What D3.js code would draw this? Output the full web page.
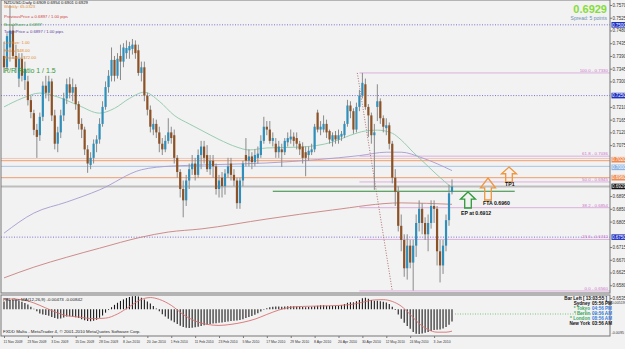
<!DOCTYPE html>
<html><head><meta charset="utf-8">
<script src="https://cdn.jsdelivr.net/npm/d3@7/dist/d3.min.js"></script>
<style>body{margin:0;background:#f2f2f2;}svg{display:block;font-family:Arial,"Liberation Sans",sans-serif;}</style>
</head><body><svg id="c" width="625" height="349"></svg>
<script>
// ---------------- DATA ----------------
const opens=[.7390,.7350,.7420,.7480,.7390,.7310,.7380,.7305,.7300,.7234,.7188,.7129,.7110,.7175,.7285,.7260,.7300,.7180,.7080,.7120,.7180,.7240,.7290,.7260,.7280,.7220,.7150,.7130,.7060,.7005,.7030,.7080,.7095,.7150,.7210,.7280,.7320,.7376,.7320,.7390,.7370,.7400,.7410,.7415,.7430,.7410,.7330,.7350,.7250,.7200,.7130,.7150,.7120,.7080,.7060,.7090,.7120,.7110,.7030,.6980,.6920,.6880,.6950,.6990,.7010,.6970,.7040,.7070,.7040,.6990,.7020,.7000,.6920,.6960,.6930,.6975,.7010,.6970,.6950,.6870,.6950,.7040,.7020,.7035,.7015,.7030,.7040,.7090,.7140,.7130,.7090,.7080,.7050,.7060,.7050,.7085,.7095,.7105,.7100,.7080,.7070,.7050,.7040,.7050,.7060,.7190,.7130,.7130,.7150,.7125,.7090,.7110,.7095,.7105,.7110,.7150,.7215,.7195,.7130,.7210,.7250,.7290,.7210,.7180,.7110,.7210,.7230,.7170,.7135,.7145,.7080,.6960,.6910,.6790,.6740,.6640,.6720,.6660,.6720,.6800,.6850,.6800,.6760,.6800,.6860,.6850,.6700,.6650,.6720,.6810,.6909];
const highs=[.7440,.7470,.7570,.7500,.7430,.7400,.7400,.7370,.7320,.7250,.7200,.7150,.7190,.7300,.7320,.7320,.7310,.7200,.7140,.7200,.7260,.7310,.7315,.7310,.7290,.7230,.7170,.7140,.7075,.7050,.7095,.7110,.7170,.7230,.7300,.7340,.7420,.7390,.7400,.7430,.7435,.7445,.7440,.7450,.7445,.7430,.7370,.7370,.7260,.7215,.7170,.7165,.7140,.7100,.7110,.7170,.7140,.7130,.7040,.6990,.6950,.6970,.7010,.7040,.7030,.7060,.7090,.7090,.7075,.7040,.7040,.7010,.6970,.6980,.6990,.7030,.7030,.6990,.6960,.6960,.7020,.7100,.7060,.7050,.7060,.7070,.7110,.7175,.7160,.7160,.7120,.7100,.7090,.7080,.7100,.7120,.7130,.7120,.7120,.7090,.7085,.7070,.7070,.7080,.7150,.7200,.7160,.7180,.7165,.7130,.7120,.7125,.7130,.7125,.7160,.7235,.7230,.7205,.7225,.7270,.7330,.7310,.7220,.7190,.7150,.7290,.7240,.7180,.7170,.7155,.7090,.6990,.6930,.6830,.6760,.6760,.6740,.6740,.6830,.6880,.6870,.6820,.6830,.6880,.6880,.6860,.6740,.6740,.6830,.6935,.6954];
const lows=[.7330,.7340,.7370,.7380,.7330,.7280,.7300,.7270,.7215,.7170,.7110,.7030,.7090,.7160,.7240,.7230,.7160,.7060,.7050,.7100,.7160,.7220,.7240,.7230,.7200,.7130,.7100,.7040,.6977,.6990,.7010,.7050,.7080,.7140,.7200,.7260,.7300,.7300,.7310,.7305,.7350,.7380,.7380,.7395,.7380,.7320,.7300,.7230,.7180,.7120,.7110,.7100,.7050,.7040,.7050,.7080,.7080,.7010,.6960,.6890,.6820,.6860,.6920,.6970,.6950,.6960,.6990,.7010,.6980,.6970,.6960,.6900,.6890,.6890,.6900,.6960,.6950,.6930,.6850,.6850,.6930,.7000,.7000,.6990,.7000,.7010,.7030,.7080,.7110,.7080,.7070,.7030,.7030,.6998,.7040,.7070,.7080,.7070,.7060,.7040,.7010,.6965,.7020,.7040,.7050,.7120,.7110,.7120,.7100,.7080,.7070,.7080,.7080,.7090,.7100,.7140,.7170,.7115,.7120,.7195,.7240,.7200,.7104,.7080,.6917,.7160,.7150,.7120,.7110,.7060,.6940,.6860,.6770,.6700,.6610,.6600,.6640,.6561,.6680,.6770,.6760,.6740,.6700,.6780,.6800,.6650,.6590,.6620,.6700,.6790,.6901];
const closes=[.7350,.7460,.7480,.7390,.7350,.7380,.7320,.7345,.7234,.7192,.7129,.7104,.7175,.7285,.7260,.7300,.7180,.7080,.7120,.7180,.7240,.7290,.7260,.7280,.7220,.7150,.7130,.7060,.7010,.7030,.7080,.7095,.7150,.7210,.7280,.7320,.7376,.7320,.7380,.7370,.7420,.7418,.7425,.7430,.7400,.7330,.7350,.7250,.7200,.7140,.7150,.7120,.7080,.7060,.7090,.7120,.7100,.7030,.6980,.6920,.6880,.6950,.6990,.7010,.6970,.7040,.7070,.7030,.6990,.7020,.7000,.6920,.6950,.6930,.6975,.7000,.6970,.6950,.6870,.6950,.7010,.7020,.7035,.7015,.7040,.7045,.7090,.7140,.7130,.7090,.7100,.7050,.7070,.7050,.7090,.7100,.7105,.7090,.7080,.7060,.7030,.7030,.7055,.7060,.7140,.7130,.7140,.7150,.7120,.7095,.7110,.7095,.7110,.7115,.7150,.7215,.7195,.7130,.7210,.7250,.7295,.7210,.7180,.7110,.7120,.7230,.7170,.7140,.7145,.7080,.6960,.6910,.6790,.6740,.6640,.6720,.6660,.6720,.6800,.6850,.6800,.6760,.6800,.6860,.6850,.6700,.6650,.6720,.6810,.6905,.6929];

const dateIdx=[0,8,16,24,32,40,48,56,64,72,80,88,96,104,112,120,128,136,144];
const dateLabels=["11 Nov 2009","23 Nov 2009","3 Dec 2009","15 Dec 2009","28 Dec 2009","8 Jan 2010","20 Jan 2010","1 Feb 2010","11 Feb 2010","23 Feb 2010","5 Mar 2010","17 Mar 2010","29 Mar 2010","8 Apr 2010","20 Apr 2010","30 Apr 2010","12 May 2010","24 May 2010","3 Jun 2010"];
const priceTicks=[0.7570,0.7525,0.7480,0.7435,0.7390,0.7345,0.7300,0.7255,0.7210,0.7165,0.7120,0.7075,0.7030,0.6985,0.6940,0.6895,0.6850,0.6805,0.6760,0.6715,0.6670,0.6625,0.6580,0.6535];

// moving averages (bar index, price)
const maGreenIdx=[0,6,12,18,25,32,37,42,47,52,57,62,66,72,78,82,88,99,110,116,121,125,130,133,137,141,145,150];
const maGreenVal=[.7210,.7240,.7259,.7245,.7215,.7188,.7205,.7240,.7262,.7230,.7180,.7150,.7128,.7095,.7068,.7058,.7065,.7068,.7086,.7110,.7125,.7128,.7117,.7093,.7050,.7010,.6970,.6924];
const maPurpleIdx=[0,10,21,32,46,56,70,88,105,119,128,133,140,150];
const maPurpleVal=[.6764,.6835,.6874,.6917,.6988,.7001,.7006,.7012,.7024,.7038,.7050,.7050,.7030,.6985];
const maRedIdx=[0,10,21,32,46,55,66,88,110,133,150];
const maRedVal=[.6606,.6644,.6679,.6711,.6750,.6768,.6779,.6814,.6846,.6871,.6866];

// horizontal levels
const dottedLevels=[0.7500,0.7250,0.6750];
const fullLevels=[0.7028,0.7020,0.7000,0.6960,0.6929];
const fullLevelColors=["#f2c4b4","#ee9e6e","#a9c6e6","#ee9e6e","#bdbdbd"];
const entryLevel=0.6912, entryFrom=90, entryTo=171;
const hlLevels=[0.7500,0.7250,0.7020,0.7000,0.6960,0.6929,0.6750];
const hlColors=["#2030c0","#2030c0","#ee8a50","#8fb4e4","#ee8a50","#111111","#2030c0"];
// fibonacci
const fibPct=["100.0","61.8","50.0","38.2","23.6","0.0"];
const fibVal=[0.7330,0.7036,0.6945,0.6854,0.6742,0.6560];
const fibStartIdx=119, fibHighIdx=118.3, fibLowIdx=130.0;

// oscillator
const osc=[.0030,.0033,.0036,.0037,.0036,.0033,.0029,.0024,.0018,.0010,.0002,-.0008,-.0016,-.0020,-.0022,-.0025,-.0030,-.0034,-.0036,-.0035,-.0032,-.0028,-.0027,-.0028,-.0031,-.0034,-.0038,-.0042,-.0045,-.0046,-.0044,-.0040,-.0033,-.0024,-.0013,-.0003,.0008,.0017,.0025,.0032,.0038,.0043,.0047,.0050,.0051,.0049,.0044,.0038,.0030,.0022,.0013,.0003,-.0008,-.0019,-.0028,-.0036,-.0043,-.0050,-.0057,-.0063,-.0068,-.0071,-.0072,-.0071,-.0069,-.0067,-.0064,-.0061,-.0059,-.0057,-.0055,-.0054,-.0052,-.0051,-.0049,-.0047,-.0045,-.0044,-.0043,-.0041,-.0038,-.0034,-.0030,-.0026,-.0021,-.0015,-.0009,-.0002,.0004,.0008,.0010,.0011,.0011,.0010,.0011,.0012,.0012,.0012,.0011,.0010,.0009,.0008,.0009,.0010,.0012,.0014,.0015,.0015,.0014,.0013,.0013,.0013,.0014,.0016,.0020,.0025,.0027,.0027,.0031,.0036,.0042,.0044,.0040,.0036,.0033,.0033,.0031,.0029,.0026,.0020,.0010,-.0003,-.0020,-.0036,-.0052,-.0064,-.0075,-.0087,-.0094,-.0095,-.0093,-.0090,-.0087,-.0083,-.0080,-.0079,-.0078,-.0074,-.0068,-.0059,-.0047];
const sigIdx=[0,4,8,12,16,20,25,30,34,38,42,46,49,52,56,60,64,68,72,76,80,84,88,92,96,100,108,116,120,124,127,130,133,136,139,142,145,148,150];
const sigVal=[.0040,.0039,.0032,.0015,-.0005,-.0022,-.0030,-.0036,-.0034,-.0018,.0010,.0038,.0045,.0038,.0015,-.0020,-.0045,-.0058,-.0062,-.0058,-.0050,-.0038,-.0020,-.0003,.0008,.0011,.0013,.0018,.0027,.0036,.0037,.0030,.0012,-.0020,-.0055,-.0078,-.0088,-.0088,-.0084];
const oscAxisLabels=["0.00519","-0.0095"];

// ---------------- LAYOUT ----------------
const PL=1,PR=610,MT=0,MB=293,IT=295,IB=336;
const svg=d3.select('#c');
svg.append('rect').attr('width',625).attr('height',349).attr('fill','#f2f2f2');
const x=d3.scaleLinear().domain([0,150]).range([4,452]);
const y=d3.scaleLinear().domain([0.6535,0.7570]).range([298,5]);
const yI=d3.scaleLinear().domain([-0.0095,0.0051]).range([334,296]);

const defs=svg.append('defs');
defs.append('clipPath').attr('id','cm').append('rect').attr('x',PL).attr('y',MT).attr('width',PR-PL).attr('height',MB-MT);
defs.append('clipPath').attr('id','ci').append('rect').attr('x',PL).attr('y',IT).attr('width',PR-PL).attr('height',IB-IT);
const gm=svg.append('g').attr('clip-path','url(#cm)');

dottedLevels.forEach(v=>gm.append('line').attr('x1',PL).attr('x2',PR).attr('y1',y(v)).attr('y2',y(v))
  .attr('stroke','#7a72d0').attr('stroke-width',1).attr('stroke-dasharray','1,1.6'));
fullLevels.forEach((v,i)=>gm.append('line').attr('x1',PL).attr('x2',PR).attr('y1',y(v)).attr('y2',y(v))
  .attr('stroke',fullLevelColors[i]).attr('stroke-width',i===4?2:1));
fibVal.forEach((v,i)=>{
  gm.append('line').attr('x1',x(fibStartIdx)).attr('x2',PR).attr('y1',y(v)).attr('y2',y(v)).attr('stroke','#dcb0dc').attr('stroke-width',1);
  gm.append('text').attr('x',PR-2).attr('y',y(v)-1).attr('text-anchor','end').attr('font-size',4.4).attr('fill','#cc77cc')
    .text(fibPct[i]+' - '+v.toFixed(4));
});
gm.append('line').attr('x1',x(fibHighIdx)).attr('y1',y(fibVal[0])).attr('x2',x(fibLowIdx)).attr('y2',y(fibVal[5]))
  .attr('stroke','#b07070').attr('stroke-dasharray','1,1.6');

const mkLine=(idx,val,col)=>gm.append('path').datum(idx.map((d,i)=>[d,val[i]]))
  .attr('d',d3.line().x(d=>x(d[0])).y(d=>y(d[1])).curve(d3.curveMonotoneX))
  .attr('fill','none').attr('stroke',col).attr('stroke-width',0.9);
mkLine(maRedIdx,maRedVal,'#c88080');
mkLine(maPurpleIdx,maPurpleVal,'#a89ad0');
mkLine(maGreenIdx,maGreenVal,'#8cc8a8');

gm.append('line').attr('x1',x(entryFrom)).attr('x2',x(entryTo)).attr('y1',y(entryLevel)).attr('y2',y(entryLevel))
  .attr('stroke','#2f8a3a').attr('stroke-width',1.2);

const idxs=d3.range(opens.length);
gm.selectAll('line.w').data(idxs).join('line').attr('class','w')
  .attr('x1',i=>x(i)).attr('x2',i=>x(i)).attr('y1',i=>y(highs[i])).attr('y2',i=>y(lows[i]))
  .attr('stroke','#8a8a8a').attr('stroke-width',1);
gm.selectAll('rect.b').data(idxs).join('rect').attr('class','b')
  .attr('x',i=>x(i)-1.1).attr('width',2.2)
  .attr('y',i=>y(Math.max(opens[i],closes[i])))
  .attr('height',i=>Math.max(1,Math.abs(y(opens[i])-y(closes[i]))))
  .attr('fill',i=>closes[i]>=opens[i]?'#2f8fba':'#8c5226');

function upArrow(cx,top,w,h,col){
  const hw=w/2, sw=w*0.22, hh=h*0.45;
  const p=[[cx,top],[cx+hw,top+hh],[cx+sw,top+hh],[cx+sw,top+h],[cx-sw,top+h],[cx-sw,top+hh],[cx-hw,top+hh]];
  svg.append('path').attr('d','M'+p.map(q=>q.join(',')).join('L')+'Z').attr('fill','none').attr('stroke',col).attr('stroke-width',1.3);
}
upArrow(468,192,15,16,'#2f9a3a');
upArrow(488,178,15,22,'#f0963c');
upArrow(509,167,15,15,'#f0963c');
svg.append('text').attr('x',461).attr('y',215).attr('font-size',5.2).attr('font-weight','bold').attr('fill','#111').text('EP at 0.6912');
svg.append('text').attr('x',483).attr('y',205).attr('font-size',5.2).attr('font-weight','bold').attr('fill','#111').text('FTA 0.6960');
svg.append('text').attr('x',505).attr('y',186).attr('font-size',5.2).attr('font-weight','bold').attr('fill','#111').text('TP1');

svg.append('rect').attr('x',PL).attr('y',MT).attr('width',PR-PL).attr('height',MB-MT).attr('fill','none').attr('stroke','#777');
svg.append('rect').attr('x',PL).attr('y',IT).attr('width',PR-PL).attr('height',IB-IT).attr('fill','none').attr('stroke','#777');

const visTicks=priceTicks.filter(t=>hlLevels.every(h=>Math.abs(y(h)-y(t))>5.5));
const ax=svg.append('g').attr('transform',`translate(${PR},0)`).call(d3.axisRight(y).tickValues(visTicks).tickFormat(d3.format('.4f')).tickSize(2).tickPadding(0.5));
ax.select('.domain').remove();
ax.selectAll('text').attr('font-size',4.5).attr('fill','#333');
ax.selectAll('line').attr('stroke','#777');
hlLevels.forEach((h,i)=>{
  const cy=y(h)+(h===0.7020?-1:h===0.7000?1:0);
  svg.append('rect').attr('x',PR+1.5).attr('y',cy-2.8).attr('width',13.5).attr('height',5.6).attr('fill',hlColors[i]);
  svg.append('text').attr('x',PR+2).attr('y',cy+1.7).attr('font-size',4.5).attr('fill','#fff').text(h.toFixed(4));
});

const dx=svg.append('g').attr('transform',`translate(0,${IB})`).call(d3.axisBottom(x).tickValues(dateIdx).tickFormat((d,i)=>dateLabels[i]).tickSize(2).tickPadding(2));
dx.select('.domain').remove();
dx.selectAll('text').attr('font-size',4.4).attr('fill','#333').attr('text-anchor','start').attr('dx',-1)
  .attr('textLength',function(){return this.textContent.length>10?19:17;}).attr('lengthAdjust','spacingAndGlyphs');
dx.selectAll('line').attr('stroke','#777');

const gi=svg.append('g').attr('clip-path','url(#ci)');
gi.selectAll('line.h').data(idxs).join('line').attr('class','h')
  .attr('x1',i=>x(i)).attr('x2',i=>x(i)).attr('y1',yI(0)).attr('y2',i=>yI(osc[i])).attr('stroke','#1a1a1a').attr('stroke-width',1.1);
gi.append('path').datum(sigIdx.map((d,i)=>[d,sigVal[i]]))
  .attr('d',d3.line().x(d=>x(d[0])).y(d=>yI(d[1])).curve(d3.curveMonotoneX))
  .attr('fill','none').attr('stroke','#d87070').attr('stroke-width',0.9);
gi.append('line').attr('x1',455).attr('x2',PR).attr('y1',314).attr('y2',314).attr('stroke','#7cc47c').attr('stroke-dasharray','1,1.5');
svg.append('text').attr('x',3).attr('y',300.5).attr('font-size',4.4).attr('fill','#222').text('PAL Osc    MA(12,26,9)  -0.00473  -0.00842');
svg.append('text').attr('x',3).attr('y',333).attr('font-size',4.4).attr('fill','#222').text('FXDD Malta - MetaTrader 4, © 2001-2010 MetaQuotes Software Corp.');
svg.append('text').attr('x',PR+1.5).attr('y',304).attr('font-size',3.7).attr('fill','#333').text(oscAxisLabels[0]);
svg.append('text').attr('x',PR+1.5).attr('y',334).attr('font-size',3.7).attr('fill','#333').text(oscAxisLabels[1]);

const clkNames=["Sydney","* Tokyo","* Berlin","* London","New York"];
const clkTimes=["05:56 PM","04:56 PM","09:56 AM","08:56 AM","03:56 AM"];
const clkNameCol=["#111","#3aa860","#3aa860","#3aa860","#111"];
const clkTimeCol=["#111","#3a7ad8","#3a7ad8","#3a7ad8","#111"];
svg.append('text').attr('x',607).attr('y',300).attr('text-anchor','end').attr('font-size',4.6).attr('font-weight','bold').attr('fill','#111').text('Bar Left [ 13:03:55 ]');
clkNames.forEach((n,i)=>{
  const yy=305+i*5;
  svg.append('text').attr('x',590).attr('y',yy).attr('text-anchor','end').attr('font-size',4.6).attr('font-weight','bold').attr('fill',clkNameCol[i]).text(n);
  svg.append('text').attr('x',592).attr('y',yy).attr('font-size',4.6).attr('font-weight','bold').attr('fill',clkTimeCol[i]).text(clkTimes[i]);
});

const infoText=["NZDUSD,Daily  0.6909 0.6954 0.6901 0.6929","Weekly: 65.0323","PreviousPrice = 0.6897 / 1.00 pips","BreakEven = 0.6897","TargetPrice = 0.6897 / 1.00 pips","Lot Size: 1.00","Risk = $48.00","Reward = $72.00"];
const infoY=[3.5,7.5,18,25.5,33,44,51.5,59];
const infoCol=["#111","#e08a30","#d04040","#40a040","#6040a0","#e08a30","#e08a30","#e08a30"];
infoText.forEach((t,i)=>svg.append('text').attr('x',4).attr('y',infoY[i]).attr('font-size',4.2).attr('fill',infoCol[i]).text(t));
svg.append('text').attr('x',4).attr('y',73).attr('font-size',7).attr('fill','#3a9a3a').text('R/R Ratio 1 / 1.5');

svg.append('text').attr('x',607).attr('y',13).attr('text-anchor','end').attr('font-size',11).attr('font-weight','bold').attr('fill','#86dc3a').text('0.6929');
svg.append('text').attr('x',607).attr('y',20).attr('text-anchor','end').attr('font-size',5).attr('fill','#6a90b0').text('Spread: 5 points');
</script></body></html>
